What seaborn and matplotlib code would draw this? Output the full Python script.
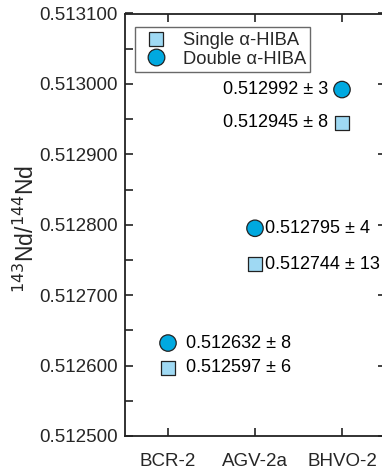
import matplotlib
matplotlib.use("Agg")
import matplotlib.pyplot as plt
import seaborn as sns
import pandas as pd
from matplotlib.ticker import MultipleLocator, FormatStrFormatter

sns.set_theme(style="ticks")
plt.rcParams["font.family"] = ["Liberation Sans", "DejaVu Sans"]

samples = ["BCR-2", "AGV-2a", "BHVO-2"]
single_vals = [0.512597, 0.512744, 0.512945]
single_err = [6, 13, 8]
double_vals = [0.512632, 0.512795, 0.512992]
double_err = [8, 4, 3]

df = pd.DataFrame({
    "sample": samples * 2,
    "ratio": single_vals + double_vals,
    "err": single_err + double_err,
    "method": ["Single α-HIBA"] * 3 + ["Double α-HIBA"] * 3,
})

fig = plt.figure(figsize=(3.82, 4.71), dpi=100)
ax = fig.add_axes([124.5 / 382, 35 / 471, 261 / 382, 422.5 / 471])

sns.scatterplot(
    data=df, x="sample", y="ratio", hue="method", style="method", size="method",
    markers={"Single α-HIBA": "s", "Double α-HIBA": "o"},
    palette={"Single α-HIBA": "#9fd9f3", "Double α-HIBA": "#00a9e0"},
    sizes={"Single α-HIBA": 105, "Double α-HIBA": 140},
    edgecolor="#222222", linewidth=0.9, ax=ax, legend=False, zorder=3,
)

ax.set_xlim(-0.5, 2.5)
ax.set_ylim(0.5125, 0.5131)
ax.yaxis.set_major_locator(MultipleLocator(0.0001))
ax.yaxis.set_minor_locator(MultipleLocator(0.00005))
ax.yaxis.set_major_formatter(FormatStrFormatter("%.6f"))
ax.set_xlabel("")
ax.set_ylabel("$^{143}$Nd/$^{144}$Nd", fontsize=16.5)
ax.yaxis.set_label_coords(-0.327, 0.49)

ax.tick_params(axis="both", which="both", direction="in", top=True, right=True,
               labelsize=13.5, color="#222222")
ax.tick_params(axis="both", which="major", length=6, width=1.2)
ax.tick_params(axis="y", which="minor", length=6, width=1.2, right=False)
ax.tick_params(axis="x", which="major", pad=12)
ax.tick_params(axis="y", which="major", pad=5)
for sp in ax.spines.values():
    sp.set_linewidth(1.3)
    sp.set_color("#222222")

# value labels next to each point
offsets = {"BCR-2": (13, "left"), "AGV-2a": (7, "left"), "BHVO-2": (-10, "right")}
for i, s in enumerate(samples):
    dx, ha = offsets[s]
    for v, e in ((single_vals[i], single_err[i]), (double_vals[i], double_err[i])):
        ax.annotate(f"{v:.6f} ± {e}", xy=(i, v), xytext=(dx, 0),
                    textcoords="offset points", ha=ha, va="center",
                    fontsize=13, color="#000000")

handles = [
    plt.Line2D([], [], marker="s", linestyle="", markersize=10.2,
               markerfacecolor="#9fd9f3", markeredgecolor="#222222",
               markeredgewidth=0.9, label="Single α-HIBA"),
    plt.Line2D([], [], marker="o", linestyle="", markersize=12,
               markerfacecolor="#00a9e0", markeredgecolor="#222222",
               markeredgewidth=0.9, label="Double α-HIBA"),
]
leg = ax.legend(handles=handles, loc="upper left", bbox_to_anchor=(0.04, 0.967),
                fontsize=13.2, frameon=True, fancybox=False, edgecolor="#444444",
                borderpad=0.25, labelspacing=0.1, handletextpad=0.5,
                handlelength=1.85, borderaxespad=0)
leg.get_frame().set_linewidth(1.0)

fig.savefig("out.png", dpi=100)
